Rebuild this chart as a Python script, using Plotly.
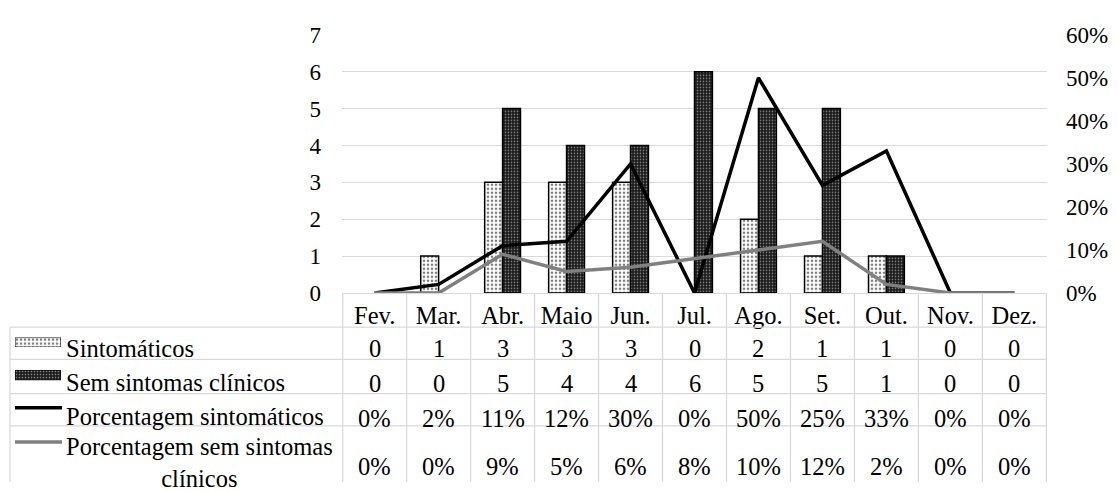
import plotly.graph_objects as go

# Monthly counts and percentages
meses = ["Fev.", "Mar.", "Abr.", "Maio", "Jun.", "Jul.", "Ago.", "Set.", "Out.", "Nov.", "Dez."]
sintomaticos = [0, 1, 3, 3, 3, 0, 2, 1, 1, 0, 0]
sem_sintomas = [0, 0, 5, 4, 4, 6, 5, 5, 1, 0, 0]
pct_sintomaticos = [0, 2, 11, 12, 30, 0, 50, 25, 33, 0, 0]
pct_sem_sintomas = [0, 0, 9, 5, 6, 8, 10, 12, 2, 0, 0]

W, H = 1117, 493
FONT = "Liberation Serif"
GRID = "#d9d9d9"

# pixel -> paper helpers (figure has zero margins)
def px(x):
    return x / W

def py(y):
    return 1 - y / H

PLOT_L, PLOT_R, PLOT_T, PLOT_B = 342, 1047, 24, 296

light_pat = dict(shape=".", bgcolor="white", fgcolor="black", size=4, solidity=0.35)
dark_pat = dict(shape=".", bgcolor="#1a1a1a", fgcolor="white", size=3, solidity=0.25)

fig = go.Figure()

fig.add_trace(go.Bar(
    x=meses, y=sintomaticos, name="Sintomáticos",
    marker=dict(color="white", pattern=light_pat,
                line=dict(color="black", width=[1.5 if v else 0 for v in sintomaticos])),
))
fig.add_trace(go.Bar(
    x=meses, y=sem_sintomas, name="Sem sintomas clínicos",
    marker=dict(color="#1a1a1a", pattern=dark_pat,
                line=dict(color="black", width=[1.5 if v else 0 for v in sem_sintomas])),
))
fig.add_trace(go.Scatter(
    x=meses, y=[v / 100 for v in pct_sintomaticos], yaxis="y2", mode="lines",
    name="Porcentagem sintomáticos", line=dict(color="black", width=3.5),
))
fig.add_trace(go.Scatter(
    x=meses, y=[v / 100 for v in pct_sem_sintomas], yaxis="y2", mode="lines",
    name="Porcentagem sem sintomas clínicos", line=dict(color="#808080", width=3.5),
))

# legend key swatches for the two bar series, drawn on tiny auxiliary axes
swatches = [(15, 61, 343, 353, light_pat, "white"), (15, 61, 377, 388, dark_pat, "#1a1a1a")]
for i, (x0, x1, y0, y1, pat, col) in enumerate(swatches):
    xa, ya = f"x{i + 3}", f"y{i + 3}"
    fig.add_trace(go.Bar(
        x=[0], y=[1], width=[1], xaxis=xa, yaxis=ya, showlegend=False, hoverinfo="skip",
        marker=dict(color=col, pattern=pat, line=dict(color="black", width=1)),
    ))
    fig.update_layout({
        f"xaxis{i + 3}": dict(domain=[px(x0), px(x1)], range=[-0.5, 0.5], visible=False,
                              anchor=ya, fixedrange=True),
        f"yaxis{i + 3}": dict(domain=[py(y1), py(y0)], range=[0, 1], visible=False,
                              anchor=xa, fixedrange=True),
    })

shapes = []
line_style = dict(color=GRID, width=1.3)
ROWS = [332, 366, 402, 436]
TABLE_BOTTOM = 495
# horizontal rules of the data table
for y in ROWS:
    shapes.append(dict(type="line", xref="paper", yref="paper", x0=px(10), x1=px(PLOT_R),
                       y0=py(y), y1=py(y), line=line_style))
# vertical rules: table left edge and one per month boundary
shapes.append(dict(type="line", xref="paper", yref="paper", x0=px(10), x1=px(10),
                   y0=py(332), y1=py(TABLE_BOTTOM), line=line_style))
for k in range(len(meses) + 1):
    shapes.append(dict(type="line", xref="x", yref="paper", x0=k - 0.5, x1=k - 0.5,
                       y0=py(PLOT_B), y1=py(TABLE_BOTTOM), line=line_style))
# legend keys for the two line series
shapes.append(dict(type="line", xref="paper", yref="paper", x0=px(15), x1=px(62),
                   y0=py(417), y1=py(417), line=dict(color="black", width=3.5)))
shapes.append(dict(type="line", xref="paper", yref="paper", x0=px(15), x1=px(62),
                   y0=py(453), y1=py(453), line=dict(color="#808080", width=3.5)))

annotations = []
tfont = dict(family=FONT, size=24.5, color="black")
value_centers = [355, 391, 428, 479]
name_centers = [354, 390, 426, 475]
row_values = [
    [str(v) for v in sintomaticos],
    [str(v) for v in sem_sintomas],
    [f"{v}%" for v in pct_sintomaticos],
    [f"{v}%" for v in pct_sem_sintomas],
]
row_names = ["Sintomáticos", "Sem sintomas clínicos", "Porcentagem sintomáticos",
             "Porcentagem sem sintomas<br>clínicos"]
for yv, yn, vals, nm in zip(value_centers, name_centers, row_values, row_names):
    for m, v in zip(meses, vals):
        annotations.append(dict(x=m, y=py(yv), xref="x", yref="paper", text=v,
                                showarrow=False, font=tfont, xanchor="center", yanchor="middle"))
    annotations.append(dict(x=px(64), y=py(yn), xref="paper", yref="paper", text=nm,
                            showarrow=False, font=tfont, xanchor="left", yanchor="middle",
                            align="center"))

fig.update_layout(
    width=W, height=H,
    margin=dict(l=0, r=0, t=0, b=0),
    paper_bgcolor="white", plot_bgcolor="white",
    barmode="group", bargap=0.44, bargroupgap=0,
    showlegend=False,
    font=dict(family=FONT, color="black"),
    xaxis=dict(domain=[px(PLOT_L), px(PLOT_R)], showline=True, linecolor=GRID, linewidth=1.3,
               showgrid=False, ticks="", tickfont=dict(family=FONT, size=24.5),
               ticklabelstandoff=0, fixedrange=True),
    yaxis=dict(domain=[py(PLOT_B), py(PLOT_T)], range=[0, 7], dtick=1, showgrid=True,
               gridcolor=GRID, gridwidth=1.3, zeroline=False, ticks="",
               tickfont=dict(family=FONT, size=23), ticklabelstandoff=20, fixedrange=True),
    yaxis2=dict(overlaying="y", side="right", range=[0, 0.6], dtick=0.1, tickformat=".0%",
                showgrid=False, zeroline=False, ticks="", tickfont=dict(family=FONT, size=23),
                ticklabelstandoff=18, fixedrange=True),
    shapes=shapes,
    annotations=annotations,
)

fig.write_html("out.html")
